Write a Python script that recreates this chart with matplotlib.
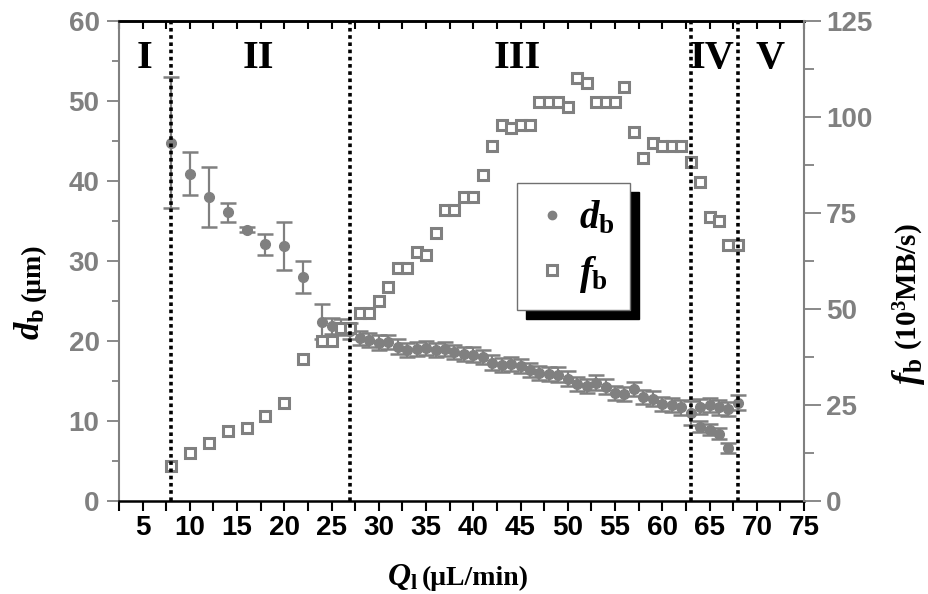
import matplotlib
matplotlib.use("Agg")
import matplotlib.pyplot as plt
from matplotlib.lines import Line2D
from matplotlib.ticker import MultipleLocator

plt.rcParams['font.family'] = ['Liberation Sans', 'DejaVu Sans']
plt.rcParams['mathtext.fontset'] = 'custom'
plt.rcParams['mathtext.it'] = 'Liberation Serif:italic:bold'
plt.rcParams['mathtext.bf'] = 'Liberation Serif:bold'
plt.rcParams['mathtext.rm'] = 'Liberation Serif:bold'

# ---------------- data ----------------
q_d = [8, 10, 12, 14, 16, 18, 20, 22, 24, 25, 26, 27, 28, 29, 30, 31, 32, 33, 34, 35,
       36, 37, 38, 39, 40, 41, 42, 43, 44, 45, 46, 47, 48, 49, 50, 51, 52, 53, 54, 55,
       56, 57, 58, 59, 60, 61, 62, 63, 64, 65, 66, 67, 68]
d_b = [44.8, 40.9, 38.0, 36.1, 33.9, 32.1, 31.9, 28.0, 22.4, 21.9, 21.8, 21.3, 20.4, 20.1,
       19.8, 19.9, 19.3, 18.9, 19.0, 19.1, 18.9, 19.0, 18.6, 18.4, 18.3, 18.0, 17.3, 17.0,
       17.1, 16.9, 16.4, 16.0, 15.9, 15.8, 15.3, 14.6, 14.4, 14.8, 14.3, 13.5, 13.4, 14.0,
       13.0, 12.8, 12.1, 12.0, 11.7, 11.0, 11.8, 12.0, 11.7, 11.5, 12.3]
d_err = [8.2, 2.7, 3.8, 1.2, 0.3, 1.3, 3.0, 2.0, 2.2, 1.0, 1.0, 1.0, 0.9, 0.9,
         0.9, 0.9, 0.9, 0.9, 0.9, 0.9, 0.9, 0.9, 0.9, 0.9, 0.9, 0.9, 0.9, 0.9,
         0.9, 0.9, 0.9, 0.9, 0.9, 0.9, 0.9, 0.9, 0.9, 0.9, 0.9, 0.9, 0.9, 0.9,
         0.9, 0.9, 0.9, 0.9, 0.9, 1.5, 0.9, 0.9, 0.9, 0.9, 0.9]
# second (small bubble) branch in region IV
q_d2 = [64, 65, 66, 67]
d_b2 = [9.3, 8.9, 8.4, 6.6]
d_err2 = [0.7, 0.7, 0.7, 0.6]

q_f = [8, 10, 12, 14, 16, 18, 20, 22, 24, 25, 26, 27, 28, 29, 30, 31, 32, 33, 34, 35,
       36, 37, 38, 39, 40, 41, 42, 43, 44, 45, 46, 47, 48, 49, 50, 51, 52, 53, 54, 55,
       56, 57, 58, 59, 60, 61, 62, 63, 64, 65, 66, 67, 68]
f_b = [9.1, 12.5, 15.1, 18.2, 19.0, 22.1, 25.5, 37.0, 41.7, 41.7, 45.1, 45.1, 49.0, 49.0,
       52.1, 55.7, 60.6, 60.6, 64.8, 64.0, 69.8, 75.8, 75.8, 79.2, 79.2, 84.9, 92.4, 97.9,
       97.1, 97.9, 97.9, 103.9, 103.9, 103.9, 102.6, 110.2, 108.9, 103.9, 103.9, 103.9,
       107.8, 96.1, 89.3, 93.2, 92.4, 92.4, 92.4, 88.3, 83.1, 74.0, 72.9, 66.7, 66.7]

boundaries = [8, 27, 63, 68]
regions = ['I', 'II', 'III', 'IV', 'V']
region_x = [5.2, 17.3, 44.7, 65.3, 71.4]

x_ticks = list(range(5, 80, 5))

GRAY = '#808080'
W, H = 929, 594

fig = plt.figure(figsize=(W / 100, H / 100), dpi=100)
ax = fig.add_axes([119 / W, (H - 501) / H, 685 / W, 480 / H])
ax2 = ax.twinx()

# d_b
ebkw = dict(fmt='o', color=GRAY, ms=7, capsize=6, elinewidth=1.6, capthick=1.8, zorder=3)
ax.errorbar(q_d, d_b, yerr=d_err, **ebkw)
ax.errorbar(q_d2, d_b2, yerr=d_err2, **ebkw)

# f_b
ax2.plot(q_f, f_b, ls='none', marker='s', ms=7.2, mfc='white', mec=GRAY, mew=2.2, zorder=3)

# boundaries
for b in boundaries:
    ax2.axvline(b, color='black', lw=2.6, ls=(0, (1, 1)), zorder=5)

for lab, xr in zip(regions, region_x):
    ax2.text(xr, 115.3, lab, ha='center', va='center', fontsize=29,
             fontfamily='Liberation Serif', fontweight='bold', zorder=6)

# axes limits / ticks
ax.set_xlim(2.5, 75)
ax.set_ylim(0, 60)
ax2.set_ylim(0, 125)
ax.set_xticks(x_ticks)
ax.xaxis.set_minor_locator(MultipleLocator(2.5))
ax.yaxis.set_major_locator(MultipleLocator(10))
ax.yaxis.set_minor_locator(MultipleLocator(5))
ax2.yaxis.set_major_locator(MultipleLocator(25))
ax2.yaxis.set_minor_locator(MultipleLocator(12.5))

ax.tick_params(axis='x', which='both', direction='out', width=1.5, length=7, color='black',
               labelsize=20, labelcolor='black', pad=3)
ax.tick_params(axis='y', which='major', direction='out', width=1.3, length=9, color=GRAY,
               labelsize=20, labelcolor=GRAY, pad=5)
ax.tick_params(axis='y', which='minor', direction='out', width=1.3, length=5, color=GRAY)
ax2.tick_params(axis='y', which='major', direction='out', width=1.3, length=12, color=GRAY,
                labelsize=20, labelcolor=GRAY, pad=4)
ax2.tick_params(axis='y', which='minor', direction='out', width=1.3, length=7, color=GRAY)
for t in ax.get_xticklabels() + ax.get_yticklabels() + ax2.get_yticklabels():
    t.set_fontweight('bold')

top = ax.secondary_xaxis('top')
top.set_xticks(x_ticks)
top.xaxis.set_minor_locator(MultipleLocator(2.5))
top.tick_params(axis='x', which='both', direction='in', length=6, width=1.5, labeltop=False)
top.spines['top'].set_linewidth(1.8)

for s in ['left', 'top', 'bottom']:
    ax2.spines[s].set_visible(False)
ax.spines['right'].set_visible(False)
ax.spines['left'].set_color(GRAY)
ax.spines['left'].set_linewidth(1.5)
ax2.spines['right'].set_color(GRAY)
ax2.spines['right'].set_linewidth(1.5)
ax.spines['bottom'].set_linewidth(1.8)
ax.spines['top'].set_linewidth(1.8)

# legend
handles = [Line2D([], [], ls='none', marker='o', color=GRAY, ms=6),
           Line2D([], [], ls='none', marker='s', ms=6.5, mfc='white', mec=GRAY, mew=2.2)]
leg = ax2.legend(handles, [r'$d_\mathbf{b}$', r'$f_\mathbf{b}$'], loc='upper left',
                 bbox_to_anchor=(0.581, 0.6625), borderaxespad=0, fontsize=28,
                 handlelength=1.0, handletextpad=0.2, borderpad=0.4, labelspacing=0.45,
                 fancybox=False, framealpha=1, edgecolor='#707070',
                 shadow={'ox': 6.5, 'oy': -6.5, 'color': 'black', 'alpha': 1})
leg.get_frame().set_linewidth(1.0)
leg.set_zorder(10)

# axis labels (mixed sizes)
def fx(px):
    return px / W

def fy(py):
    return (H - py) / H

fig.text(fx(40), fy(340), r'$d_\mathbf{b}$', rotation=90, rotation_mode='anchor',
         ha='left', va='baseline', fontsize=25)
fig.text(fx(40), fy(301), '(μm)', rotation=90, rotation_mode='anchor',
         ha='left', va='baseline', fontsize=20, fontfamily='Liberation Serif',
         fontweight='bold')

fig.text(fx(917), fy(385), r'$f_\mathbf{b}$', rotation=90, rotation_mode='anchor',
         ha='left', va='baseline', fontsize=26)
fig.text(fx(917), fy(350), r'(10$^\mathbf{3}$MB/s)', rotation=90, rotation_mode='anchor',
         ha='left', va='baseline', fontsize=21, fontfamily='Liberation Serif',
         fontweight='bold')

fig.text(fx(418), fy(585), r'$Q_\mathbf{l}$', ha='right', va='baseline', fontsize=23)
fig.text(fx(422), fy(585), '(μL/min)', ha='left', va='baseline', fontsize=20,
         fontfamily='Liberation Serif', fontweight='bold')

fig.savefig('out.png', dpi=100)
